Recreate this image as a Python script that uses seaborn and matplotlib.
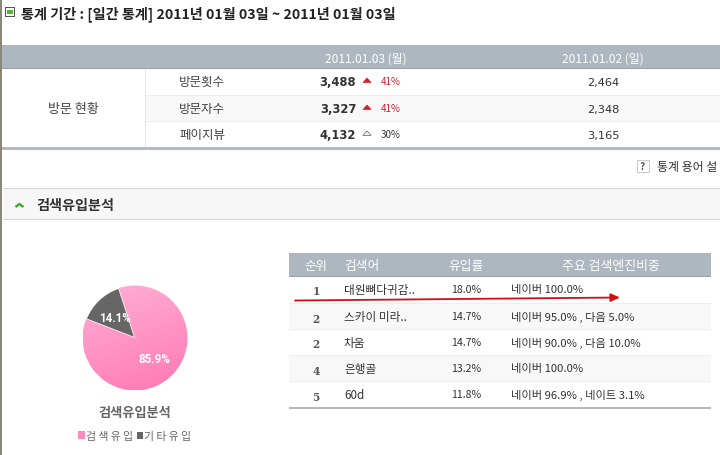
import numpy as np
import matplotlib
matplotlib.use("Agg")
import matplotlib.pyplot as plt
from matplotlib.patches import Rectangle, Polygon
import seaborn as sns

title = "통계 기간 : [일간 통계] 2011년 01월 03일 ~ 2011년 01월 03일"
day_headers = ["2011.01.03 (월)", "2011.01.02 (일)"]
visit_group = "방문 현황"
visit_labels = ["방문횟수", "방문자수", "페이지뷰"]
visit_today = ["3,488", "3,327", "4,132"]
visit_change = ["41%", "41%", "30%"]
visit_prev = ["2,464", "2,348", "3,165"]
help_text = "통계 용어 설"
section_title = "검색유입분석"
pie_labels = ["검색유입", "기타유입"]
pie_values = [85.9, 14.1]
rank_headers = ["순위", "검색어", "유입률", "주요 검색엔진비중"]
ranks = ["1", "2", "2", "4", "5"]
keywords = ["대원뼈다귀감..", "스카이 미라..", "차움", "은행골", "60d"]
rates = ["18.0%", "14.7%", "14.7%", "13.2%", "11.8%"]
engines = ["네이버 100.0%", "네이버 95.0% , 다음 5.0%", "네이버 90.0% , 다음 10.0%",
           "네이버 100.0%", "네이버 96.9% , 네이트 3.1%"]

sns.set_theme(style="white")
plt.rcParams['font.family'] = ['Noto Sans CJK KR', 'DejaVu Sans']

W, H = 720, 456
BAND = "#aeb6c0"
TXT = "#333333"
fig = plt.figure(figsize=(W / 100, H / 100), dpi=100, facecolor="white")
page = fig.add_axes([0, 0, 1, 1])
page.set_xlim(0, W)
page.set_ylim(H, 0)
page.axis("off")


def box(x0, y0, x1, y1, c, z=1):
    page.add_patch(Rectangle((x0, y0), x1 - x0, y1 - y0, fc=c, ec="none", zorder=z))


def put(x, y, s, size=8.4, color=TXT, ha="left", weight="normal", **kw):
    page.text(x, y, s, fontsize=size, color=color, ha=ha, va="center_baseline",
              fontweight=weight, **kw)


# page border + title
box(0, 0, 2, H, "#8c8878")
box(5, 8, 15, 18, "#555555")
box(6, 9, 14, 17, "#ffffff")
box(7, 11, 13, 15, "#5cb531")
put(21, 12.5, title, size=10.2, color="#222222", weight="bold")

# summary table
box(2, 46, W, 69, BAND)
box(2, 69, W, 70, "#98a0aa")
box(2, 96, W, 122, "#f8f8f8")
box(146, 96, W, 97, "#eeeeee", 2)
box(146, 122, W, 123, "#eeeeee", 2)
box(2, 70, 145, 148, "#ffffff")
box(145, 70, 146, 148, "#e4e4e4")
box(2, 148, W, 151, "#b4bac2")
put(366, 57.5, day_headers[0], size=8.6, color="#ffffff", ha="center")
put(603, 57.5, day_headers[1], size=8.6, color="#ffffff", ha="center")
put(73, 108, visit_group, size=9.4, ha="center", color="#444444")
for i, y in enumerate([81, 108, 134]):
    put(179, y, visit_labels[i], size=9, color="#444444")
    put(338, y, visit_today[i], size=8.4, ha="center", weight="bold", family="DejaVu Sans")
    up = i < 2
    tc = "#d8202a" if up else "#ffffff"
    page.add_patch(Polygon([(363, y + 2.5), (371, y + 2.5), (367, y - 2)], fc=tc,
                           ec="#d8202a" if up else "#555555", lw=0.5, zorder=3))
    put(381, y, visit_change[i], size=7, color="#cc2233" if up else "#333333")
    put(603, y + 1, visit_prev[i], size=8.2, ha="center", family="DejaVu Sans")

# help link
page.add_patch(Rectangle((636.5, 160.5), 12, 12, fc="#ffffff", ec="#cccccc", lw=0.8))
put(642.5, 166.5, "?", size=7.5, ha="center", weight="bold", color="#555555")
put(657, 166, help_text, size=8.6, clip_on=True)

# section bar
box(3, 189, W, 221, "#f7f7f7")
box(3, 189, W, 190, "#d5d5d5")
box(3, 220, W, 221, "#d5d5d5")
page.plot([15.5, 19.5, 23.5], [208, 205, 208], color="#44b02a", lw=1.8, solid_capstyle="butt")
put(36, 205, section_title, size=10.2, color="#333333", weight="bold")

# ranking table
box(289, 254, 711, 277, BAND)
box(289, 277, 711, 278, "#98a0aa")
box(289, 304, 711, 330, "#f8f8f8")
box(289, 356, 711, 382, "#f8f8f8")
for y in [304, 330, 356, 382]:
    box(289, y, 711, y + 1, "#eeeeee", 2)
box(289, 408, 711, 410, "#b4bac2")
put(316, 265.5, rank_headers[0], size=9, color="#ffffff", ha="center")
put(344, 265.5, rank_headers[1], size=9.2, color="#ffffff")
put(466, 265.5, rank_headers[2], size=9.2, color="#ffffff", ha="center")
put(611, 265.5, rank_headers[3], size=9.3, color="#ffffff", ha="center")
for i, y in enumerate([289, 316.5, 342, 368.5, 394.5]):
    put(316, y + 2, ranks[i], size=7.6, ha="center", weight="bold", color="#555555", family="DejaVu Serif")
    put(344, y, keywords[i], color="#333333")
    put(466, y, rates[i], size=7.6, ha="center", color="#333333")
    put(511, y, engines[i], size=8.1, color="#333333")

# red annotation arrow
page.annotate("", xy=(620, 298.5), xytext=(295, 301.5),
              arrowprops=dict(arrowstyle="-|>,head_length=0.45,head_width=0.2", color="#d40d12",
                              lw=1.3, shrinkA=0, shrinkB=0), zorder=5)

# pie
pax = fig.add_axes([82 / W, 1 - 392 / H, 106 / W, 106 / H])
wedges, _, autotexts = pax.pie(pie_values, colors=["#ff8cbe", "#666666"], startangle=108,
                               counterclock=False, radius=1.0, autopct="%.1f%%", pctdistance=0.55,
                               textprops=dict(color="white", fontweight="bold", fontsize=8.4,
                                              family="Roboto"))
cmap = sns.blend_palette(["#ffb0d6", "#ff78b2"], n_colors=64, as_cmap=True)
grad = np.linspace(0, 1, 64)[:, None] @ np.ones((1, 64)) * 0.75 + \
       np.ones((64, 1)) @ np.linspace(0, 1, 64)[None, :] * 0.25
img = pax.imshow(grad, cmap=cmap, extent=(-1, 1, -1, 1), origin="upper", aspect="auto", zorder=1.5)
img.set_clip_path(wedges[0])
pax.set_xlim(-1.01, 1.01)
pax.set_ylim(-1.01, 1.01)
pax.axis("off")

# caption + legend
put(135, 412, section_title, size=9.5, color="#666666", ha="center", weight="bold")
box(78, 432, 85, 440, "#ff8cbe")
page.text(86, 436, " ".join(pie_labels[0]), fontsize=7.8, color="#666666", va="center_baseline")
box(137, 433, 143, 440, "#666666")
page.text(144, 436, " ".join(pie_labels[1]), fontsize=7.8, color="#666666", va="center_baseline")

fig.savefig("out.png", dpi=100, facecolor="white")
